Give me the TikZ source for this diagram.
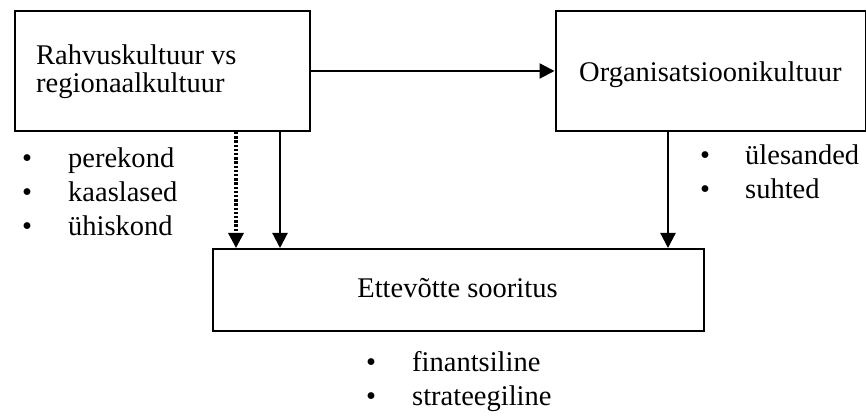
\documentclass[tikz,border=0pt]{standalone}
\usepackage{fontspec}
\setmainfont{Liberation Serif}
\usetikzlibrary{arrows.meta}
\begin{document}
\begin{tikzpicture}[x=1pt,y=1pt,
  boxst/.style={draw,line width=2pt,inner sep=0pt,anchor=south west},
  lbl/.style={inner sep=0pt,anchor=base west,font=\fontsize{28.5}{34}\selectfont},
  bul/.style={inner sep=0pt,anchor=base,font=\fontsize{28.5}{34}\selectfont},
  arr/.style={line width=2.2pt,-{Triangle[length=15pt,width=15pt]}},
  dotarr/.style={arr,line width=3.2pt,dash pattern=on 2.4pt off 1.8pt}]
\useasboundingbox (0,0) rectangle (866,417);
% boxes
\node[boxst,minimum width=295pt,minimum height=120pt] (A) at (14,285) {};
\node[boxst,minimum width=310pt,minimum height=120pt] (B) at (554.5,285) {};
\node[boxst,minimum width=491pt,minimum height=82pt] (C) at (212,85) {};
% box texts
\node[lbl] (a1) at (36,352) {Rahvuskultuur vs};
\node[lbl] (a2) at (36,324) {regionaalkultuur};
\node[lbl] (b1) at (579,335) {Organisatsioonikultuur};
\node[bul] (c1) at (457.5,119) {Ettevõtte sooritus};
% left bullets
\node[bul] (lb1) at (27,249) {•};
\node[lbl] (lt1) at (68,249) {perekond};
\node[bul] (lb2) at (27,215) {•};
\node[lbl] (lt2) at (68,215) {kaaslased};
\node[bul] (lb3) at (27,181) {•};
\node[lbl] (lt3) at (68,181) {ühiskond};
% right bullets
\node[bul] (rb1) at (705,252) {•};
\node[lbl] (rt1) at (745,252) {ülesanded};
\node[bul] (rb2) at (705,218) {•};
\node[lbl] (rt2) at (745,218) {suhted};
% bottom bullets
\node[bul] (bb1) at (371,45) {•};
\node[lbl] (bt1) at (412,45) {finantsiline};
\node[bul] (bb2) at (371,12) {•};
\node[lbl] (bt2) at (412,12) {strateegiline};
% connectors
\draw[arr] (A.east) -- (B.west);
\draw[dotarr] (A.south -| 236,0) -- (C.north -| 236,0);
\draw[arr] (A.south -| 280,0) -- (C.north -| 280,0);
\draw[arr] (B.south -| 668,0) -- (C.north -| 668,0);
\end{tikzpicture}
\end{document}
